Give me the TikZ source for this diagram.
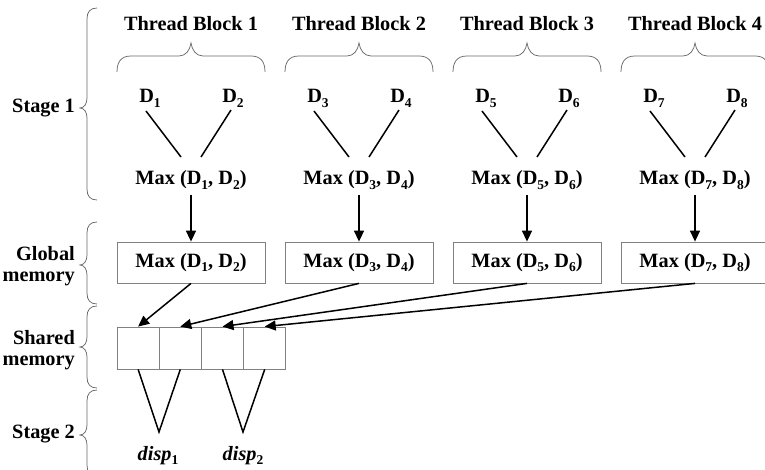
\documentclass[tikz,border=0pt]{standalone}
\usepackage{fontspec}
\setmainfont{Liberation Serif}
\usetikzlibrary{arrows.meta,calc}
\definecolor{boxgray}{HTML}{808080}
\definecolor{bracegray}{HTML}{6A6A6A}
\newcommand\mysb[1]{\raisebox{-4.5pt}{\fontsize{13.5}{13.5}\selectfont #1}}
\newcommand\myhbrace[1]{%
  \draw[brc] (#1-74,72) .. controls (#1-74,62) and (#1-70,56) .. (#1-60,56) -- (#1-12,56)
    .. controls (#1-5,56) and (#1-1,50) .. (#1,43) .. controls (#1+1,50) and (#1+5,56) .. (#1+12,56)
    -- (#1+60,56) .. controls (#1+70,56) and (#1+74,62) .. (#1+74,72);}
\newcommand\myvbrace[3]{%
  \draw[brc] (97,#1) .. controls (90,#1) and (87,#1+4) .. (87,#1+11) -- (87,#2-10)
    .. controls (87,#2-4) and (84,#2) .. (80,#2) .. controls (84,#2) and (87,#2+4) .. (87,#2+10)
    -- (87,#3-11) .. controls (87,#3-4) and (90,#3) .. (97,#3);}
\begin{document}
\begin{tikzpicture}[x=1pt,y=-1pt,
  lbl/.style={font=\fontsize{20.3}{21.5}\selectfont\bfseries, inner sep=0pt},
  gbox/.style={draw=boxgray, line width=0.8pt, minimum width=148pt, minimum height=41pt,
    inner sep=0pt, font=\fontsize{20.3}{21.5}\selectfont\bfseries},
  cell/.style={draw=boxgray, line width=0.8pt, minimum width=42.2pt, minimum height=42pt, inner sep=0pt},
  brc/.style={draw=bracegray, line width=0.75pt},
  ln/.style={line width=1.5pt},
  arr/.style={line width=1.5pt, -{Triangle[length=11pt,width=10pt]}}]
\useasboundingbox (0,0) rectangle (765,470);

% stage labels and braces
\node[lbl, anchor=base east] (st1) at (75,113) {Stage 1};
\node[lbl, anchor=east, align=right] (glob) at (75,266) {Global\\memory};
\node[lbl, anchor=east, align=right] (shar) at (75,350) {Shared\\memory};
\node[lbl, anchor=base east] (st2) at (75,438) {Stage 2};
\myvbrace{8}{108}{200}
\myvbrace{222}{265}{304}
\myvbrace{306}{347}{388}
\myvbrace{390}{435}{476}

% thread blocks
\foreach \i/\c in {1/191,2/359,3/527,4/695}{
  \pgfmathtruncatemacro\a{2*\i-1}
  \pgfmathtruncatemacro\b{2*\i}
  \node[lbl, anchor=base] (t\i) at (\c,30.5) {Thread Block \i};
  \myhbrace{\c}
  \node[lbl, anchor=base] (dl\i) at (\c-41,103) {D\mysb{\a}};
  \node[lbl, anchor=base] (dr\i) at (\c+42,103) {D\mysb{\b}};
  \node[lbl, anchor=base] (m\i) at (\c,185) {Max (D\mysb{\a}, D\mysb{\b})};
  \coordinate (la\i) at (\c-45,111);
  \coordinate (lb\i) at (\c-10,157);
  \coordinate (ra\i) at (\c+40,110);
  \coordinate (rb\i) at (\c+10,157);
  \draw[ln] (la\i) -- (lb\i);
  \draw[ln] (ra\i) -- (rb\i);
  \node[gbox] (b\i) at (\c,262.5) {Max (D\mysb{\a}, D\mysb{\b})};
  \draw[arr, shorten <=5pt] (m\i.south) -- (b\i.north);
}

% shared memory cells
\node[cell] (s1) at (138.1,348) {};
\node[cell] (s2) at (180.3,348) {};
\node[cell] (s3) at (222.5,348) {};
\node[cell] (s4) at (264.7,348) {};
\foreach \i in {1,2,3,4}{
  \draw[arr] (b\i.south) -- (s\i.north);
}

% stage 2
\coordinate (v1) at (159,432);
\coordinate (v2) at (243,432);
\draw[ln] (s1.south) -- (v1) -- (s2.south);
\draw[ln] (s3.south) -- (v2) -- (s4.south);
\node[lbl, anchor=base] (p1) at (158,460) {\textit{disp}\mysb{1}};
\node[lbl, anchor=base] (p2) at (243,460) {\textit{disp}\mysb{2}};
\end{tikzpicture}
\end{document}
